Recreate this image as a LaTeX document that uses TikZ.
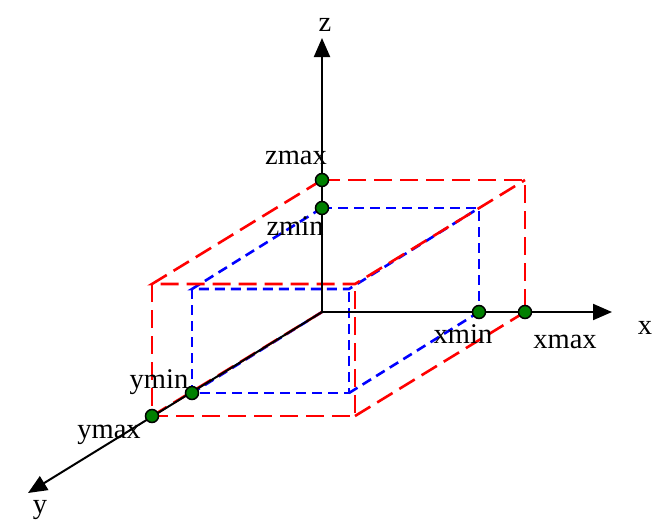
\documentclass[tikz,border=0pt]{standalone}
\usepackage{fontspec}
\setmainfont{Liberation Serif}
\usetikzlibrary{arrows.meta}
\begin{document}
\begin{tikzpicture}[x=1pt,y=-1pt,
  axis/.style={line width=2pt,-{Triangle[length=19pt,width=16pt]}},
  redbox/.style={red,line width=2.6pt,dash pattern=on 18pt off 8pt},
  bluebox/.style={blue,line width=2.6pt,dash pattern=on 10pt off 6pt},
  dot/.style={circle,draw=black,fill=green!50!black,line width=1.5pt,inner sep=0pt,minimum size=13pt},
  lbl/.style={font=\fontsize{28.5}{32}\selectfont,anchor=base,inner sep=0pt}]
\useasboundingbox (0,0) rectangle (654,525);
% key points
\coordinate (O) at (322,312);
\coordinate (Zmax) at (322,180);
\coordinate (Zmin) at (322,208);
\coordinate (Xmax) at (525,312);
\coordinate (Xmin) at (479,312);
\coordinate (Ymax) at (152,416);
\coordinate (Ymin) at (192,393);
% red box corners
\coordinate (RbT) at (525,180);
\coordinate (RfTL) at (152,284);
\coordinate (RfTR) at (355,284);
\coordinate (RfBR) at (355,416);
% blue box corners
\coordinate (BbT) at (479,208);
\coordinate (BfTL) at (192,289);
\coordinate (BfTR) at (349,289);
\coordinate (BfBR) at (349,393);
% axis ends
\coordinate (Zend) at (322,38);
\coordinate (Xend) at (612,312);
\coordinate (Yend) at (28,493);
% blue box
\draw[bluebox] (Zmin) -- (BbT) -- (Xmin);
\draw[bluebox] (Zmin) -- (BfTL) -- (BfTR) -- (BbT);
\draw[bluebox] (BfTL) -- (Ymin) -- (BfBR) -- (BfTR);
\draw[bluebox] (BfBR) -- (Xmin);
\draw[bluebox] (O) -- (Zmin);
\draw[bluebox] (O) -- (Xmin);
\draw[bluebox] (O) -- (Ymin);
% red box
\draw[redbox] (Zmax) -- (RbT) -- (Xmax);
\draw[redbox] (Zmax) -- (RfTL) -- (RfTR) -- (RbT);
\draw[redbox] (RfTL) -- (Ymax) -- (RfBR) -- (RfTR);
\draw[redbox] (RfBR) -- (Xmax);
\draw[redbox] (O) -- (Zmax);
\draw[redbox] (O) -- (Xmax);
\draw[redbox] (O) -- (Ymax);
% axes
\draw[axis] (O) -- (Zend);
\draw[axis] (O) -- (Xend);
\draw[axis] (O) -- (Yend);
% dots
\node[dot] (dZmax) at (Zmax) {};
\node[dot] (dZmin) at (Zmin) {};
\node[dot] (dXmax) at (Xmax) {};
\node[dot] (dXmin) at (Xmin) {};
\node[dot] (dYmax) at (Ymax) {};
\node[dot] (dYmin) at (Ymin) {};
% labels
\node[lbl] (lz) at (325,31) {z};
\node[lbl] (lx) at (645,334) {x};
\node[lbl] (ly) at (40,513) {y};
\node[lbl] (lzmax) at (296,164) {zmax};
\node[lbl] (lzmin) at (295,235) {zmin};
\node[lbl] (lxmin) at (463,343) {xmin};
\node[lbl] (lxmax) at (565,348) {xmax};
\node[lbl] (lymin) at (159,388) {ymin};
\node[lbl] (lymax) at (109,438) {ymax};
\end{tikzpicture}
\end{document}
